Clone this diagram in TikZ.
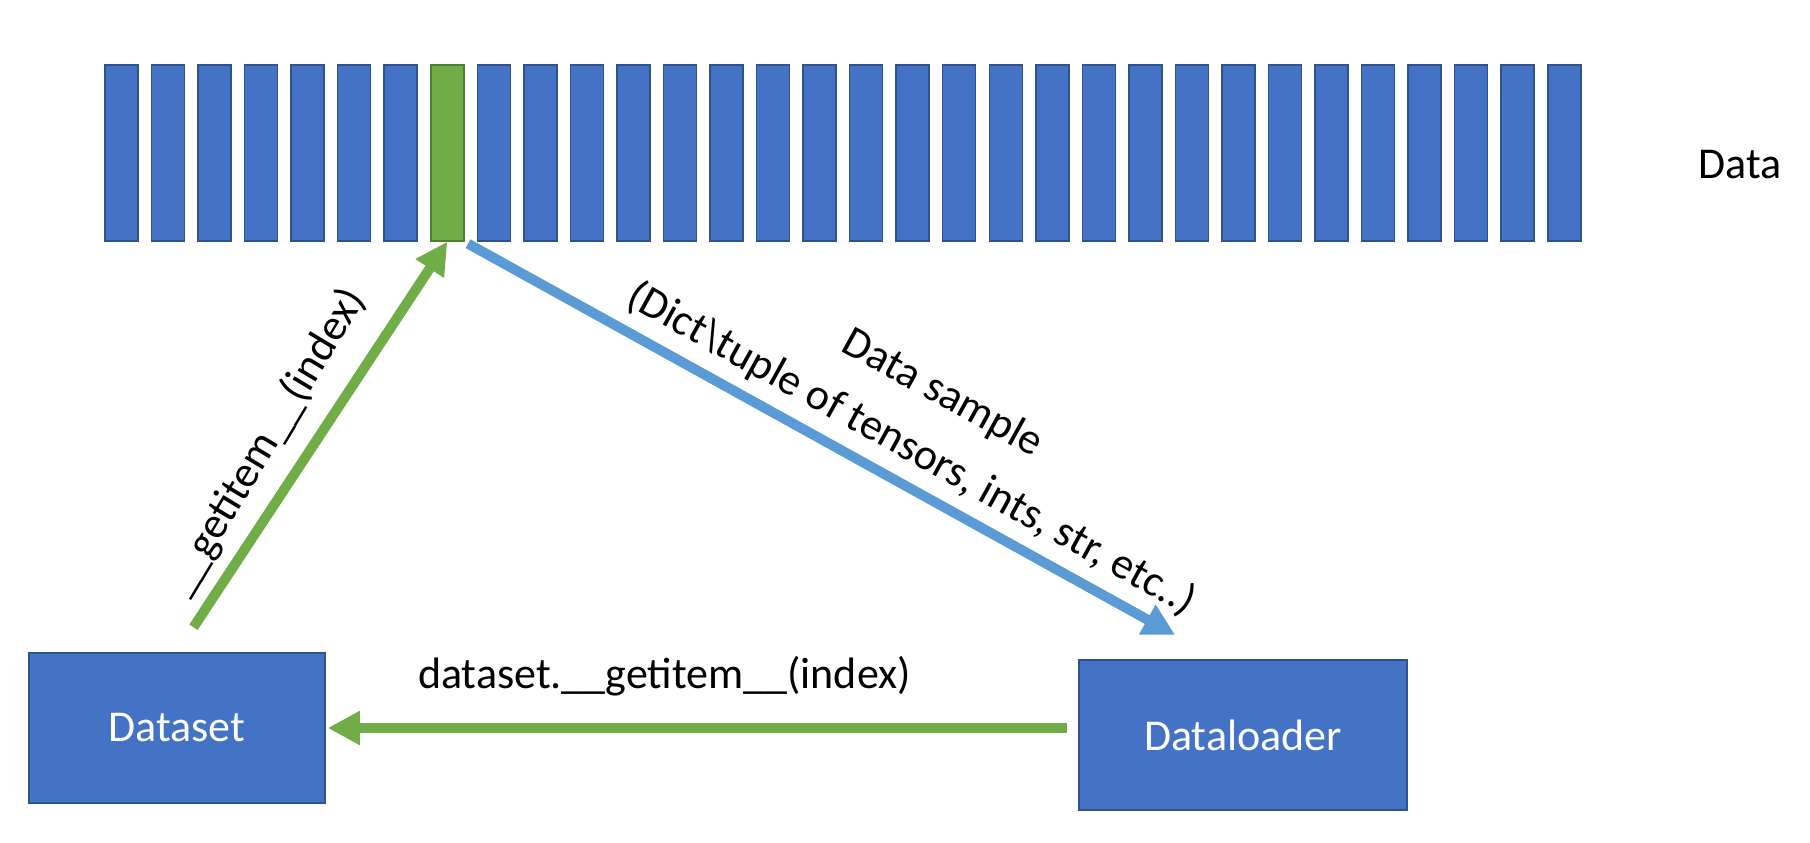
\documentclass[tikz,border=0pt]{standalone}
\usepackage{fontspec}
\setmainfont{Carlito}
\usetikzlibrary{arrows.meta}

\definecolor{barblue}{RGB}{68,114,196}
\definecolor{barline}{RGB}{47,82,143}
\definecolor{pickgreen}{RGB}{112,173,71}
\definecolor{pickline}{RGB}{80,126,50}
\definecolor{sampleblue}{RGB}{91,155,213}

\tikzset{every picture/.style={line width=0.75pt}}
\tikzset{
  bar/.style={draw=barline, fill=barblue, minimum width=16.5pt, minimum height=88pt, inner sep=0pt},
  box/.style={draw=barline, fill=barblue, text=white, minimum height=75pt, inner sep=0pt, font=\fontsize{22}{26}\selectfont},
  lbl/.style={font=\fontsize{22}{32}\selectfont, text=black},
  greenarrow/.style={draw=pickgreen, line width=5pt, -{Triangle[length=16pt,width=16pt]}},
  bluearrow/.style={draw=sampleblue, line width=5pt, -{Triangle[length=16pt,width=16pt]}}
}

\begin{document}
\begin{tikzpicture}[x=0.5pt,y=0.5pt,yscale=-1,xscale=1]
	\useasboundingbox (0,0) rectangle (1810,842);

	%Shape: Rectangles (data items)
	\foreach \i in {1,...,7,9,10,...,32}
		\node[bar] (bar\i) at ({121.5+(\i-1)*46.54},153) {};
	%Shape: Rectangle (picked item)
	\node[bar, draw=pickline, fill=pickgreen] (bar8) at ({121.5+7*46.54},153) {};

	% Text Node
	\node[lbl] (data) at (1740,165) {Data};

	%Shape: Rectangle
	\node[box, minimum width=148pt] (dataset) at (177,728) {Dataset};
	%Shape: Rectangle
	\node[box, minimum width=164pt] (loader) at (1243,735) {Dataloader};

	%Straight Lines
	\draw[greenarrow, shorten <=15pt] (dataset.north) -- (bar8.south)
		node[lbl, rotate=59, above=5pt, pos=0.46] (getlbl) {\_\_getitem\_\_(index)};
	%Straight Lines
	\draw[bluearrow, shorten <=2pt, shorten >=25pt] (bar8.south east) -- ([xshift=-12pt]loader.north)
		node[lbl, rotate=-29, above=2pt, pos=0.57, align=center] (samplelbl) {Data sample\\(Dict\textbackslash tuple of tensors, ints, str, etc..)};
	%Straight Lines
	\draw[greenarrow, shorten <=5.5pt, shorten >=1pt] (loader.west |- dataset.east) -- (dataset.east)
		node[lbl, above=10pt, pos=0.55] (calllbl) {dataset.\_\_getitem\_\_(index)};

\end{tikzpicture}
\end{document}
